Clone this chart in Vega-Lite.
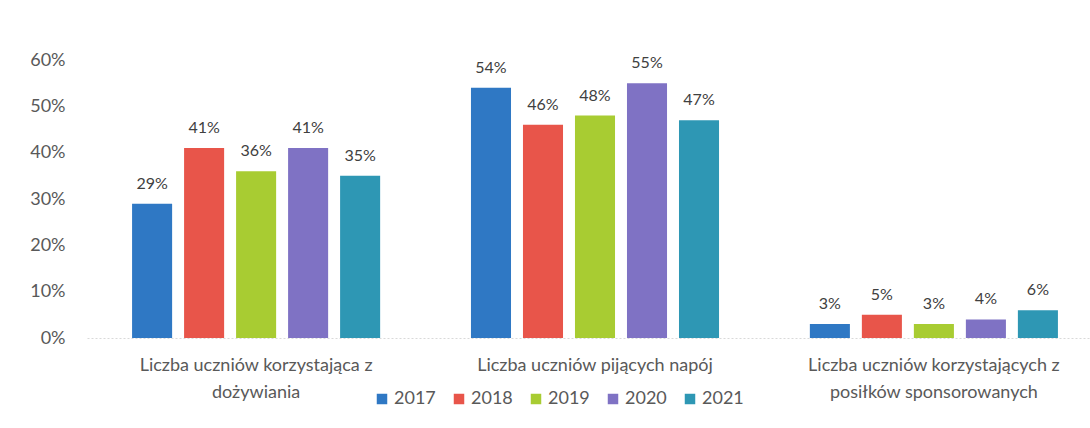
{
  "$schema": "https://vega.github.io/schema/vega-lite/v6.json",
  "autosize": {"type": "none"},
  "width": 1016,
  "height": 278,
  "padding": {"left": 87, "top": 60, "right": 0, "bottom": 90},
  "background": "white",
  "config": {
    "font": "Lato",
    "view": {"stroke": null}
  },
  "data": {
    "values": [
      {"kategoria": "Liczba uczniów korzystająca z|dożywiania", "rok": "2017", "wartosc": 0.29},
      {"kategoria": "Liczba uczniów korzystająca z|dożywiania", "rok": "2018", "wartosc": 0.41},
      {"kategoria": "Liczba uczniów korzystająca z|dożywiania", "rok": "2019", "wartosc": 0.36},
      {"kategoria": "Liczba uczniów korzystająca z|dożywiania", "rok": "2020", "wartosc": 0.41},
      {"kategoria": "Liczba uczniów korzystająca z|dożywiania", "rok": "2021", "wartosc": 0.35},
      {"kategoria": "Liczba uczniów pijących napój", "rok": "2017", "wartosc": 0.54},
      {"kategoria": "Liczba uczniów pijących napój", "rok": "2018", "wartosc": 0.46},
      {"kategoria": "Liczba uczniów pijących napój", "rok": "2019", "wartosc": 0.48},
      {"kategoria": "Liczba uczniów pijących napój", "rok": "2020", "wartosc": 0.55},
      {"kategoria": "Liczba uczniów pijących napój", "rok": "2021", "wartosc": 0.47},
      {"kategoria": "Liczba uczniów korzystających z|posiłków sponsorowanych", "rok": "2017", "wartosc": 0.03},
      {"kategoria": "Liczba uczniów korzystających z|posiłków sponsorowanych", "rok": "2018", "wartosc": 0.05},
      {"kategoria": "Liczba uczniów korzystających z|posiłków sponsorowanych", "rok": "2019", "wartosc": 0.03},
      {"kategoria": "Liczba uczniów korzystających z|posiłków sponsorowanych", "rok": "2020", "wartosc": 0.04},
      {"kategoria": "Liczba uczniów korzystających z|posiłków sponsorowanych", "rok": "2021", "wartosc": 0.06}
    ]
  },
  "encoding": {
    "x": {
      "field": "kategoria",
      "type": "nominal",
      "sort": null,
      "title": null,
      "scale": {"paddingInner": 0.268, "paddingOuter": 0.133},
      "axis": {
        "labelAngle": 0,
        "labelExpr": "split(datum.label, '|')",
        "labelFontSize": 18,
        "labelColor": "#595959",
        "labelLineHeight": 27,
        "labelPadding": 18,
        "labelLimit": 0,
        "labelOverlap": false,
        "ticks": false,
        "domainColor": "#d9d9d9",
        "domainDash": [2, 2],
        "domainWidth": 1
      }
    },
    "xOffset": {
      "field": "rok",
      "type": "nominal",
      "scale": {"paddingInner": 0.23, "paddingOuter": 0}
    },
    "y": {
      "field": "wartosc",
      "type": "quantitative",
      "title": null,
      "scale": {"domain": [0, 0.6], "nice": false},
      "axis": {
        "format": ".0%",
        "values": [0, 0.1, 0.2, 0.3, 0.4, 0.5, 0.6],
        "labelOverlap": false,
        "grid": false,
        "domain": false,
        "ticks": false,
        "labelFontSize": 18,
        "labelColor": "#595959",
        "labelPadding": 22
      }
    }
  },
  "layer": [
    {
      "mark": {"type": "bar"},
      "encoding": {
        "color": {
          "field": "rok",
          "type": "nominal",
          "title": null,
          "scale": {
            "domain": ["2017", "2018", "2019", "2020", "2021"],
            "range": ["#2f78c4", "#e8554a", "#a8cc32", "#7f72c4", "#2e97b4"]
          },
          "legend": {
            "orient": "none",
            "direction": "horizontal",
            "legendX": 286,
            "legendY": 330,
            "symbolType": "square",
            "symbolSize": 110,
            "symbolStrokeWidth": 0,
            "labelFontSize": 18,
            "labelColor": "#595959",
            "labelOffset": 3,
            "columnPadding": 14,
            "symbolOpacity": 1
          }
        }
      }
    },
    {
      "mark": {"type": "text", "baseline": "alphabetic", "dy": -15, "fontSize": 16, "color": "#404040"},
      "encoding": {
        "text": {"field": "wartosc", "type": "quantitative", "format": ".0%"}
      }
    }
  ]
}
